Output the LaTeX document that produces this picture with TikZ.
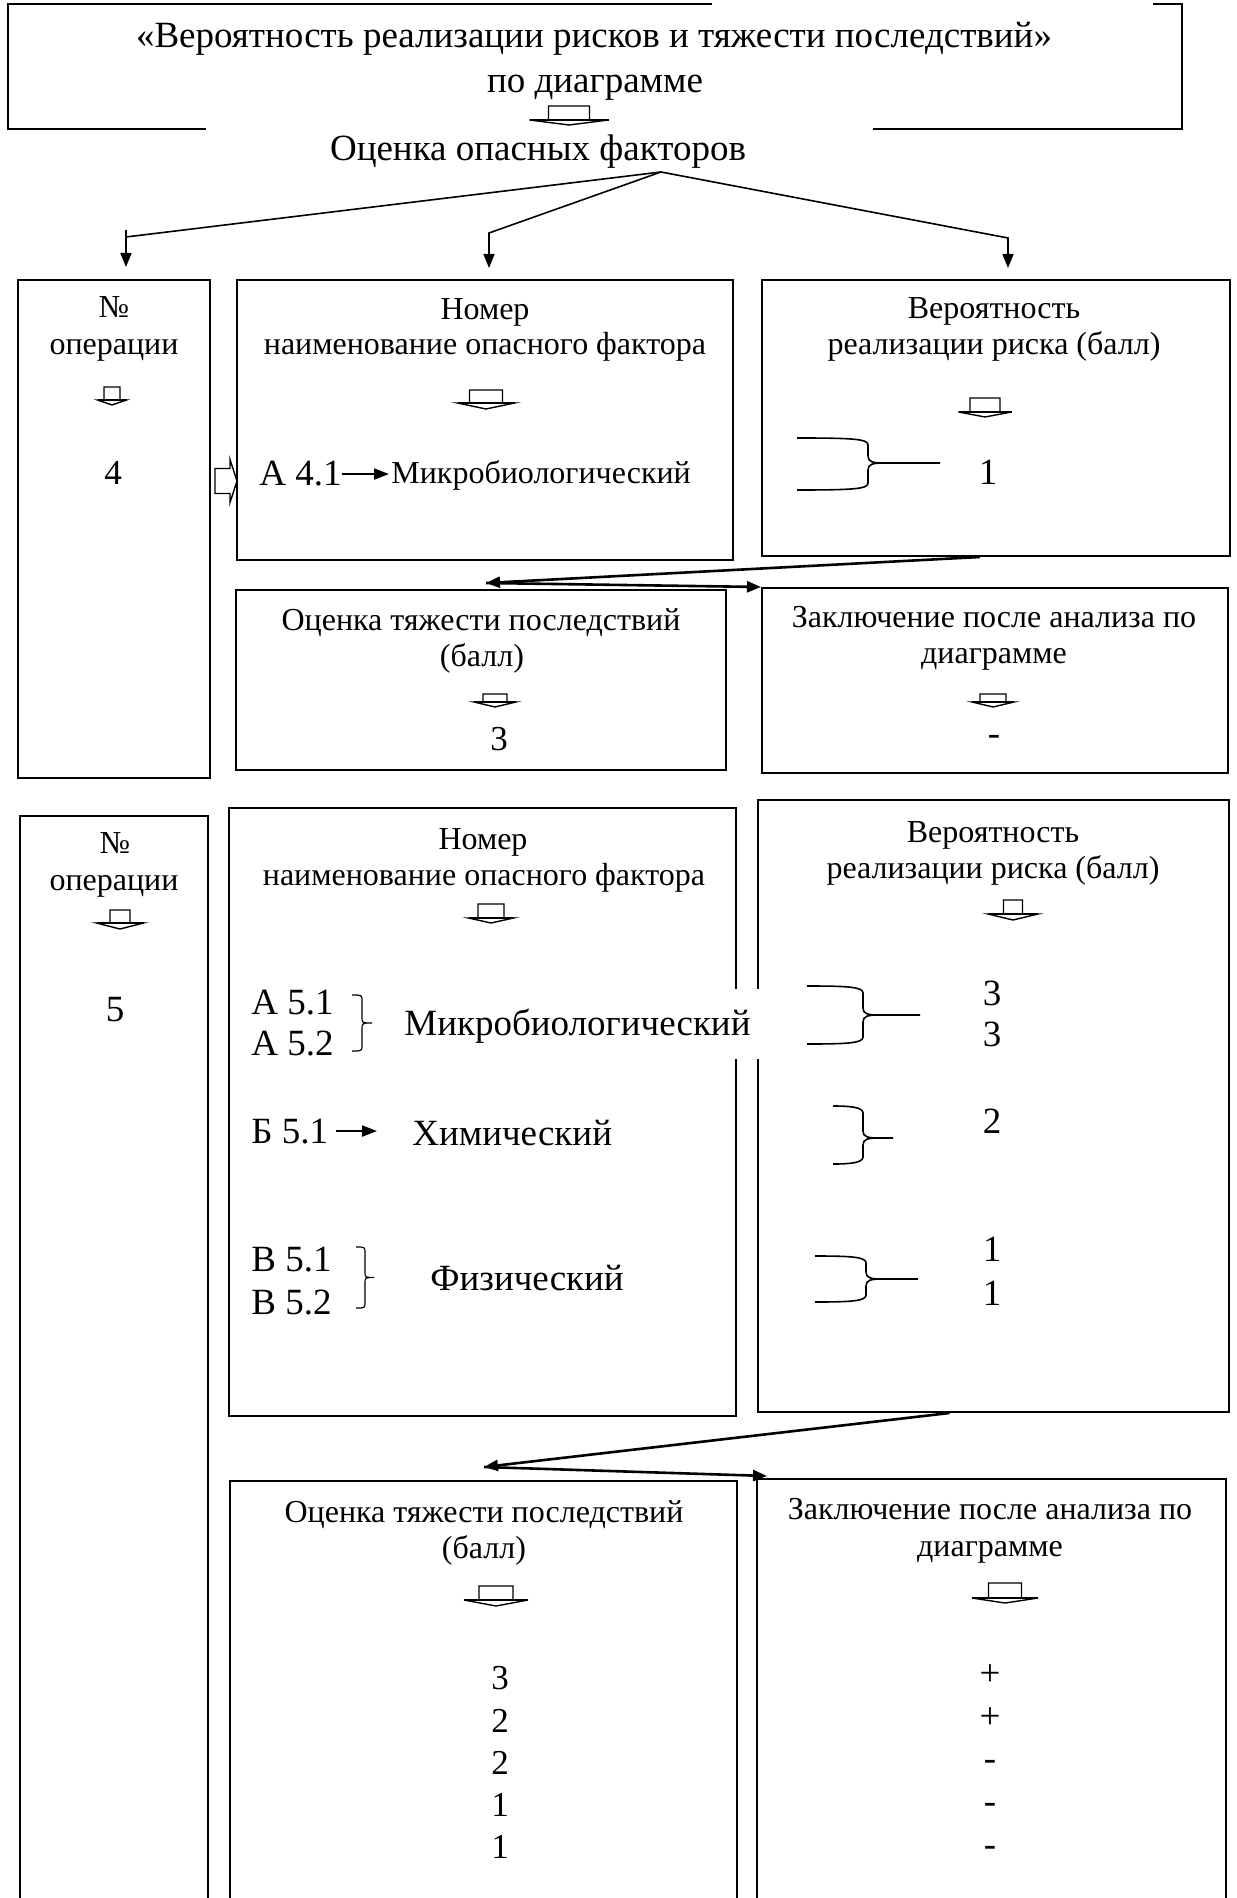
\documentclass[tikz,border=0pt]{standalone}
\usepackage{fontspec}
\setmainfont{Liberation Serif}
\usetikzlibrary{arrows.meta}

\newcommand\bigsz{\fontsize{18.5pt}{22.5pt}\selectfont}
\newcommand\normsz{\fontsize{16pt}{18.5pt}\selectfont}
\newcommand\midsz{\fontsize{17.5pt}{21pt}\selectfont}

% hollow block arrow pointing down: centre x, top y, width, stem width, stem length, head depth
\newcommand\blockdown[6]{%
  \draw[blockarr] ({#1-#4/2},#2) -- ({#1+#4/2},#2) -- ({#1+#4/2},{#2+#5}) -- ({#1+#3/2},{#2+#5})
    -- (#1,{#2+#5+#6}) -- ({#1-#3/2},{#2+#5}) -- ({#1-#4/2},{#2+#5}) -- cycle;
  \draw[blockbase] ({#1-#3/2},{#2+#5}) -- ({#1+#3/2},{#2+#5});}
% hollow block arrow pointing right: left x, centre y, width, stem width, stem length, head depth
\newcommand\blockright[6]{%
  \draw[blockarr] (#1,{#2-#4/2}) -- ({#1+#5},{#2-#4/2}) -- ({#1+#5},{#2-#3/2}) -- ({#1+#5+#6},#2)
    -- ({#1+#5},{#2+#3/2}) -- ({#1+#5},{#2+#4/2}) -- (#1,{#2+#4/2}) -- cycle;}
% long-armed brace: arm x, spine x, tip x, top y, middle y, bottom y
\newcommand\armbrace[6]{%
  \draw[bracestroke] (#1,#4) .. controls ({#2-14},#4) and (#2,{#4+1}) .. (#2,{#4+7}) -- (#2,{#5-7})
    .. controls (#2,{#5-1}) and ({#2+5},#5) .. ({#2+16},#5) -- (#3,#5);
  \draw[bracestroke] (#1,#6) .. controls ({#2-14},#6) and (#2,{#6-1}) .. (#2,{#6-7}) -- (#2,{#5+7})
    .. controls (#2,{#5+1}) and ({#2+5},#5) .. ({#2+16},#5);}
% slim right brace: left x, top y, bottom y, tip x
\newcommand\slimbrace[4]{%
  \draw[thinbrace] (#1,#2) .. controls ({(#1+#4)/2},#2) .. ({(#1+#4)/2},{#2+6})
    -- ({(#1+#4)/2},{(#2+#3)/2-6}) .. controls ({(#1+#4)/2},{(#2+#3)/2}) .. (#4,{(#2+#3)/2})
    .. controls ({(#1+#4)/2},{(#2+#3)/2}) .. ({(#1+#4)/2},{(#2+#3)/2+6})
    -- ({(#1+#4)/2},{#3-6}) .. controls ({(#1+#4)/2},#3) .. (#1,#3);}

\tikzset{
  boxline/.style={draw, line width=1pt, inner sep=0pt},
  lbl/.style={inner sep=0pt, anchor=base, font=\normsz},
  lblbig/.style={inner sep=0pt, anchor=base, font=\bigsz},
  blockarr/.style={line width=0.7pt, line join=miter},
  blockbase/.style={line width=1.2pt},
  bracestroke/.style={line width=0.8pt},
  thinbrace/.style={line width=0.6pt},
  feedline/.style={line width=0.8pt},
  feed/.style={line width=0.8pt, -{Triangle[length=7pt,width=5.5pt]}},
  splitarr/.style={line width=1.3pt, -{Triangle[length=7pt,width=5.5pt]}},
  tinyarr/.style={line width=1pt, -{Triangle[length=7.5pt,width=5.5pt]}},
  frameline/.style={line width=1.3pt},
}

\begin{document}
\begin{tikzpicture}[x=0.5pt, y=-0.5pt]
\useasboundingbox (0,0) rectangle (1236,1898);
\fill[white] (0,0) rectangle (1236,1898);
\begin{scope}
\clip (0,0) rectangle (1236,1898);

% ---------- heading ----------
\draw[frameline] (712,4) -- (8,4) -- (8,129) -- (206,129);
\draw[frameline] (1153,4) -- (1182,4) -- (1182,129) -- (873,129);
\node[lblbig] (ttl1) at (594,48) {«Вероятность реализации рисков и тяжести последствий»};
\node[lblbig] (ttl2) at (595,93) {по диаграмме};
\blockdown{569}{106}{79}{41}{14}{5}
\node[lblbig] (ocf) at (538,161) {Оценка опасных факторов};

% ---------- operation 4 ----------
\node[boxline, minimum width=96pt, minimum height=249pt] (opA) at (114,529) {};
\node[boxline, minimum width=248pt, minimum height=140pt] (facB) at (485,420) {};
\node[boxline, minimum width=234pt, minimum height=138pt] (probD) at (996,418) {};
\node[boxline, minimum width=245pt, minimum height=90pt] (sevC) at (481,680) {};
\node[boxline, minimum width=233pt, minimum height=92.5pt] (conE) at (995,680.5) {};

% fan-out from the heading
\coordinate (apex) at (661,172);
\coordinate (bendA) at (126,237);
\coordinate (stubA) at (126,230);
\coordinate (tipA) at (126,267);
\coordinate (bendB) at (489,233);
\coordinate (tipB) at (489,268);
\coordinate (bendD) at (1008,238);
\coordinate (tipD) at (1008,268);
\draw[feedline] (apex) -- (bendA);
\draw[feed] (stubA) -- (tipA);
\draw[feed] (apex) -- (bendB) -- (tipB);
\draw[feed] (apex) -- (bendD) -- (tipD);

\node[lbl] (na1) at (114,318) {№};
\node[lbl] (op1) at (114,355) {операции};
\blockdown{112}{387}{29}{16}{13}{5}
\node[lbl, font=\midsz] (n4) at (113,485) {4};
\blockright{215}{481}{43}{25}{15}{7}

\node[lbl] (nm1) at (485,320) {Номер};
\node[lbl] (nn1) at (485,355) {наименование опасного фактора};
\blockdown{486}{390}{57}{33}{13}{6}
\node[lblbig, anchor=base west] (a41) at (259,486) {А 4.1};
\node[lbl, anchor=base west] (m41) at (391,484) {Микробиологический};
\draw[tinyarr, shorten >=1pt] (a41.east) -- (a41.east -| m41.west);

\node[lbl] (vr1) at (994,319) {Вероятность};
\node[lbl] (rr1) at (994,355) {реализации риска (балл)};
\blockdown{985}{398}{53}{30}{14}{5}
\armbrace{797}{868}{940}{438}{463}{490}
\node[lblbig] (p41) at (988,485) {1};

\coordinate (split1) at (486,583);
\draw[splitarr] ([xshift=-8pt]probD.south) -- (split1);
\draw[splitarr] (split1) -- (conE.north west);

\node[lbl] (ot1) at (481,630) {Оценка тяжести последствий};
\node[lbl] (bl1) at (482,666) {(балл)};
\blockdown{495}{694}{42}{24}{8}{5}
\node[lbl, font=\midsz] (s41) at (499,750) {3};

\node[lbl] (zk1) at (994,627) {Заключение после анализа по};
\node[lbl] (dg1) at (994,663) {диаграмме};
\blockdown{993}{694}{42}{26}{8}{5}
\node[lblbig] (c41) at (994,745) {-};

% ---------- operation 5 ----------
\node[boxline, minimum width=94pt, minimum height=547pt] (opA2) at (114,1363) {};
\node[boxline, minimum width=253.5pt, minimum height=304pt] (facB2) at (482.5,1112) {};
\node[boxline, minimum width=235.5pt, minimum height=306pt] (probD2) at (993.5,1106) {};
\node[boxline, minimum width=253.5pt, minimum height=214.5pt] (sevC2) at (483.5,1695.5) {};
\node[boxline, minimum width=234.5pt, minimum height=215.5pt] (conE2) at (991.5,1694.5) {};

\node[lbl] (na2) at (115,853) {№};
\node[lbl] (op2) at (114,890) {операции};
\blockdown{120}{910}{47}{20}{13}{6}
\node[lblbig] (n5) at (115,1021) {5};

\node[lbl] (nm2) at (483,849) {Номер};
\node[lbl] (nn2) at (484,885) {наименование опасного фактора};
\blockdown{491}{904}{45}{26}{14}{5}
\node[lblbig, anchor=base west] (a51) at (251,1014) {А 5.1};
\node[lblbig, anchor=base west] (a52) at (251,1055) {А 5.2};
\slimbrace{352}{995}{1051}{372}
\node[lblbig, fill=white, inner xsep=6pt, inner ysep=10pt, text height=13pt, text depth=2pt] (m5) at (577.5,1035) {Микробиологический};
\node[lblbig, anchor=base west] (b51) at (251,1143) {Б 5.1};
\coordinate (b51tip) at (377,1127);
\draw[tinyarr, shorten <=3.5pt] (b51.east) -- (b51.east -| b51tip);
\node[lblbig, anchor=base west] (x51) at (412,1145) {Химический};
\node[lblbig, anchor=base west] (v51) at (251,1271) {В 5.1};
\node[lblbig, anchor=base west] (v52) at (251,1314) {В 5.2};
\slimbrace{356}{1247}{1308}{374}
\node[lblbig, anchor=base west] (f5) at (430,1290) {Физический};

\node[lbl] (vr2) at (993,842) {Вероятность};
\node[lbl] (rr2) at (993,878) {реализации риска (балл)};
\blockdown{1013}{900}{50}{19}{14}{6}
\armbrace{807}{863}{920}{986}{1015}{1044}
\armbrace{833}{863}{893}{1106}{1138}{1164}
\armbrace{815}{866}{918}{1256}{1279}{1302}
\node[lblbig] (p51) at (992,1005) {3};
\node[lblbig] (p52) at (992,1046) {3};
\node[lblbig] (p53) at (992,1133) {2};
\node[lblbig] (p54) at (992,1261) {1};
\node[lblbig] (p55) at (992,1305) {1};

\coordinate (split2) at (484,1467);
\draw[splitarr] ([xshift=-22pt]probD2.south) -- (split2);
\draw[splitarr] (split2) -- ([xshift=5.5pt,yshift=1pt]conE2.north west);

\node[lbl] (ot2) at (484,1522) {Оценка тяжести последствий};
\node[lbl] (bl2) at (484,1558) {(балл)};
\blockdown{496}{1586}{64}{34}{14}{6}
\node[lbl, font=\midsz] (s51) at (500,1689) {3};
\node[lbl, font=\midsz] (s52) at (500,1732) {2};
\node[lbl, font=\midsz] (s53) at (500,1774) {2};
\node[lbl, font=\midsz] (s54) at (500,1816) {1};
\node[lbl, font=\midsz] (s55) at (500,1858) {1};

\node[lbl] (zk2) at (990,1519) {Заключение после анализа по};
\node[lbl] (dg2) at (990,1556) {диаграмме};
\blockdown{1005}{1583}{66}{33}{15}{5}
\node[lblbig] (c51) at (990,1685) {+};
\node[lblbig] (c52) at (990,1728) {+};
\node[lblbig] (c53) at (990,1770) {-};
\node[lblbig] (c54) at (990,1813) {-};
\node[lblbig] (c55) at (990,1856) {-};
\end{scope}
\end{tikzpicture}
\end{document}
